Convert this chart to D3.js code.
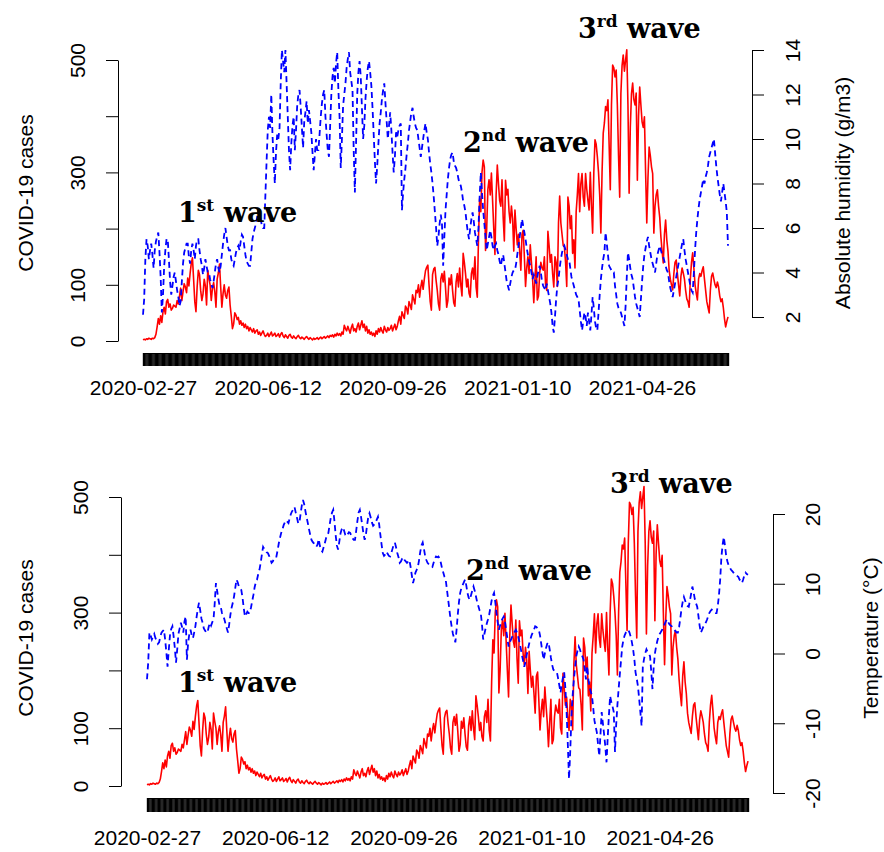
<!DOCTYPE html>
<html>
<head>
<meta charset="utf-8">
<script src="https://cdn.jsdelivr.net/npm/d3@7"></script>
<style>
  body { margin: 0; background: #fff; }
  svg { display: block; }
  .ax text { font-family: "Liberation Sans", Arial, sans-serif; font-size: 21px; fill: #000; }
  .ax line, .ax path { stroke: #000; }
  .title { font-family: "Liberation Sans", Arial, sans-serif; font-size: 21px; }
  .wave { font-family: "DejaVu Serif", serif; font-weight: bold; font-size: 27px; }
</style>
</head>
<body>
<svg id="chart" width="884" height="852"></svg>
<script>
// ---- data (daily, starting 2020-02-27) ----
const startDate = "2020-02-27";
const dateLabels = ["2020-02-27", "2020-06-12", "2020-09-26", "2021-01-10", "2021-04-26"];

const cases = [
  2, 3, 2, 4, 3, 5, 4,   3, 5, 4, 6, 12, 25, 40,   30, 45, 33, 52, 60, 48, 70,
  74, 60, 66, 55, 58, 64, 62,   60, 72, 66, 80, 94, 72, 88,   102, 96, 86, 112, 98, 120, 138,
  148, 110, 70, 52, 96, 126, 118,   90, 72, 84, 110, 98, 64, 126,   112, 100, 72, 94, 104, 88, 60,
  110, 121, 137, 96, 60, 84, 100,   82, 76, 90, 96, 64, 44, 22,   30, 50, 46, 38, 42, 30, 36,
  28, 32, 24, 30, 22, 26, 18,   24, 20, 16, 22, 14, 18, 20,   12, 16, 10, 14, 18, 12, 8,
  10, 14, 8, 12, 16, 9, 11,   14, 8, 10, 13, 7, 12, 15,   9, 6, 11, 8, 5, 10, 12,
  7, 5, 9, 6, 4, 8, 10,   6, 4, 7, 5, 3, 6, 8,   5, 3, 6, 4, 2, 5, 3,
  4, 6, 3, 5, 7, 4, 6,   8, 5, 7, 9, 6, 10, 8,   11, 7, 12, 9, 14, 10, 13,
  9, 16, 12, 28, 22, 18, 26,   20, 14, 24, 30, 18, 22, 16,   26, 32, 20, 28, 36, 24, 30,
  18, 26, 14, 20, 12, 16, 10,   14, 8, 18, 12, 22, 16, 24,   18, 14, 26, 20, 16, 24, 19,
  22, 28, 18, 24, 30, 20, 26,   36, 44, 30, 52, 46, 40, 62,   58, 48, 70, 64, 56, 82, 74,
  66, 90, 86, 100, 78, 96, 108,
  92, 110, 125, 131, 135, 100, 70,   55, 118, 128, 131, 108, 90, 66,   55, 110, 120, 105, 124, 95, 60,
  72, 112, 100, 118, 90, 68, 62,   105, 120, 96, 130, 100, 80, 156,   140, 120, 96, 110, 85, 78, 120,
  130, 110, 150, 96, 78, 180, 253,   230, 300, 322, 310, 161, 200, 270,   287, 260, 299, 250, 200, 154, 260,
  313, 280, 250, 240, 287, 220, 178,   286, 260, 270, 230, 210, 240, 218,   160, 233, 200, 171, 190, 160, 126,
  190, 197, 150, 97, 130, 150, 120,   171, 140, 110, 68, 110, 150, 73,   80, 120, 140, 130, 126, 150, 100,
  90, 195, 170, 140, 154, 120, 96,   150, 140, 97, 210, 258, 210, 190,   170, 167, 140, 97, 256, 240, 200,
  223, 156, 180, 130, 230, 260, 298,
  230, 280, 298, 256, 240, 298, 270,   250, 233, 300, 240, 192, 300, 358,   350, 328, 300, 260, 192, 300, 370,
  388, 417, 410, 429, 350, 269, 420,   491, 486, 470, 482, 420, 330, 256,   440, 490, 509, 480, 500, 518, 420,
  263, 380, 440, 459, 430, 420, 441,   286, 400, 452, 420, 390, 380, 399,   300, 210, 290, 345, 330, 310, 298,
  192, 240, 260, 269, 240, 220, 185,   160, 139, 190, 215, 180, 160, 126,   110, 100, 91, 120, 140, 144, 120,
  100, 80, 115, 130, 121, 110, 90,   75, 70, 60, 110, 140, 157, 130,   100, 85, 73, 110, 120, 115, 125,
  132, 110, 90, 70, 60, 50, 90,   115, 121, 110, 100, 95, 105, 96,   80, 70, 75, 60, 40, 25, 35,
  43
];

// absolute humidity, g/m3
const humidity = [
  2.1, 2.8, 4.6, 5.5, 5.2, 4.6, 5.0,   5.3, 4.8, 4.2, 5.0, 5.4, 5.6, 5.8,   4.9, 3.8, 2.2, 3.0, 4.3, 5.0, 5.5,
  5.5, 4.6, 3.6, 3.0, 3.4, 3.8, 4.0,   3.6, 3.2, 2.9, 2.5, 2.7, 3.6, 4.4,   4.9, 5.1, 5.3, 5.3, 4.7, 4.4, 5.0,
  5.3, 5.0, 4.6, 5.2, 5.5, 5.5, 5.0,   4.6, 4.3, 3.9, 4.2, 4.6, 4.3, 4.0,   4.0, 3.7, 3.5, 3.3, 3.6, 4.0, 4.4,
  4.6, 4.2, 4.0, 4.3, 4.8, 5.3, 5.7,   6.0, 5.6, 5.2, 5.0, 5.0, 4.6, 4.4,   4.3, 4.6, 4.9, 5.1, 5.2, 5.0, 5.4,
  5.7, 5.6, 5.2, 4.8, 4.5, 4.4, 4.3,   4.3, 4.9, 5.5, 5.8, 6.0, 6.2, 6.5,   6.8, 6.7, 6.4, 6.1, 6.0, 6.0, 7.5,
  9.0, 10.4, 11.0, 10.5, 12.0, 10.2, 9.0,   8.0, 9.4, 10.2, 10.0, 10.5, 12.5, 14.0,   13.5, 13.0, 14.0, 12.5, 11.0, 9.5, 8.6,
  9.8, 10.6, 11.0, 9.5, 10.4, 11.5, 12.0,   12.2, 11.4, 10.5, 9.6, 10.8, 11.2, 11.7,   10.7, 11.3, 10.8, 10.3, 9.4, 8.6, 9.3,
  10.0, 9.5, 9.5, 10.2, 11.0, 11.6, 12.0,   12.2, 11.0, 10.2, 9.5, 9.2, 10.6, 12.0,   12.8, 13.2, 12.5, 13.4, 13.9, 12.2, 11.0,
  8.7, 10.0, 11.5, 12.0, 12.5, 13.2, 13.6,   13.9, 13.0, 12.6, 12.2, 9.5, 7.6, 9.8,   12.0, 13.0, 13.5, 12.8, 11.4, 10.0, 10.6,
  11.8, 12.6, 13.2, 13.5, 13.0, 12.4, 11.4,   10.2, 9.0, 8.0, 8.8, 9.8, 10.7, 11.2,   11.8, 12.2, 12.5, 11.6, 10.8, 10.0, 10.6,
  11.2, 10.4, 9.4, 8.5, 9.2, 10.3, 10.1,   10.4, 10.6, 10.7, 6.8, 7.6, 8.2, 8.7,   9.3, 9.8, 10.4, 10.8, 11.2, 11.4, 11.0,
  10.7, 10.5, 10.4, 10.0, 9.6, 9.2, 9.6,   10.0, 10.4, 10.7, 10.3, 10.0, 9.4, 8.9,   8.5, 8.0, 7.4, 6.7, 6.0, 5.2, 5.6,
  6.2, 6.6, 6.2, 4.3, 5.6, 6.8, 7.5,   8.2, 8.7, 9.1, 9.3, 9.4, 9.0, 8.8,   8.7, 8.5, 8.2, 8.0, 7.9, 7.6, 7.2,
  7.0, 6.7, 6.2, 5.8, 5.5, 6.0, 6.4,   6.7, 6.3, 5.8, 5.5, 5.2, 6.0, 7.4,   8.5, 7.6, 6.8, 6.2, 5.6, 5.0, 5.3,
  5.6, 5.9, 5.6, 5.2, 5.0, 5.2, 5.3,   5.0, 4.8, 4.5, 4.3, 4.6, 4.8, 4.4,   4.0, 3.6, 3.4, 3.2, 3.5, 3.8, 4.0,
  4.1, 4.1, 4.4, 4.8, 5.2, 5.6, 6.0,   6.4, 6.1, 5.8, 5.5, 5.1, 4.8, 4.5,   4.3, 4.0, 3.7, 3.9, 3.7, 3.5, 3.8,
  4.1, 4.3, 4.0, 3.6, 3.4, 3.3, 3.2,   3.5, 3.2, 2.9, 2.6, 2.2, 1.6, 1.3,   2.0, 2.8, 3.4, 3.7, 4.2, 4.6, 4.9,
  5.1, 5.2, 5.0, 4.8, 4.6, 4.6, 4.2,   3.8, 3.6, 3.4, 3.2, 3.0, 2.9, 2.8,   2.3, 1.8, 1.4, 1.8, 2.2, 2.0, 1.6,
  2.2, 1.8, 1.4, 2.1, 2.9, 2.4, 1.8,   1.5, 1.4, 2.2, 3.0, 3.7, 4.2, 4.6,   4.9, 5.8, 5.3, 4.8, 4.3, 4.2, 4.1,
  4.0, 4.0, 3.4, 3.0, 2.6, 2.4, 2.3,   2.2, 2.0, 1.8, 1.6, 2.5, 3.8, 4.9,   4.6, 4.2, 3.9, 3.7, 3.3, 2.9, 2.6,
  2.4, 2.2, 2.0, 2.8, 3.6, 4.3, 4.8,   5.1, 5.4, 5.6, 5.2, 4.9, 4.6, 4.4,   4.2, 4.0, 4.4, 4.8, 5.0, 5.2, 5.0,
  4.8, 4.7, 4.5, 4.3, 4.1, 4.0, 3.6,   3.3, 3.1, 2.9, 3.2, 3.5, 3.8, 4.1,   4.4, 4.7, 5.0, 5.3, 5.5, 5.0, 4.6,
  4.3, 4.0, 3.7, 3.4, 3.2, 3.1, 4.0,   5.0, 5.8, 6.4, 6.9, 7.3, 7.6, 7.9,   8.2, 8.0, 8.3, 8.5, 8.8, 9.2, 9.4,
  9.6, 9.8, 10.0, 9.4, 8.8, 8.3, 7.9,   7.5, 7.2, 7.6, 8.0, 7.6, 7.2, 6.7,
  5.2
];

// temperature, deg C
const temperature = [
  -3.7, -1.3, 3.0, 2.6, 2.0, 2.4, 2.8,   2.2, 1.8, 1.4, 1.6, 2.4, 3.0, 3.2,   3.4, 2.0, 0.2, -1.9, 0.5, 2.6, 3.5,
  3.9, 2.5, 0.8, -1.3, 0.6, 2.8, 3.6,   4.4, 3.8, 3.0, 4.6, 5.3, -0.9, 1.5,   2.8, 3.4, 2.6, 2.2, 3.0, 3.9, 5.2,
  6.4, 7.3, 6.2, 5.0, 4.4, 3.6, 3.3,   3.0, 3.0, 3.8, 4.4, 4.0, 4.5, 4.9,   7.2, 10.1, 9.0, 7.8, 6.9, 6.7, 5.8,
  5.4, 4.9, 4.2, 3.6, 3.0, 4.2, 5.6,   6.6, 7.3, 8.2, 9.4, 10.6, 10.2, 9.6,   9.3, 9.1, 8.0, 6.5, 5.3, 5.6, 6.0,
  5.8, 5.8, 6.6, 7.5, 8.4, 9.5, 10.2,   10.6, 11.4, 12.0, 13.0, 14.2, 15.3, 15.0,   14.8, 14.5, 14.4, 14.0, 13.5, 13.0, 13.2,
  13.6, 13.9, 13.9, 14.8, 15.8, 16.6, 17.3,   17.8, 18.4, 18.8, 19.1, 18.9, 18.7, 19.4,   20.0, 20.4, 20.6, 21.0, 20.2, 19.5, 18.7,
  18.7, 20.0, 21.2, 22.0, 21.4, 20.4, 19.5,   18.7, 17.8, 17.0, 16.3, 16.0, 15.8, 15.5,   15.3, 15.6, 16.4, 15.4, 14.8, 14.6, 15.2,
  15.8, 16.5, 17.0, 17.3, 18.4, 19.5, 20.2,   20.6, 19.0, 17.0, 15.5, 14.9, 16.0, 17.2,   17.8, 18.1, 17.6, 17.0, 16.8, 17.1, 17.4,
  17.3, 16.9, 16.5, 16.3, 16.3, 17.6, 19.0,   20.2, 20.6, 19.6, 18.4, 17.2, 16.3, 17.0,   18.4, 19.6, 20.1, 19.5, 18.8, 18.3, 18.5,
  18.7, 19.2, 19.6, 18.5, 17.0, 15.6, 14.4,   14.0, 14.2, 14.6, 14.3, 14.0, 13.9, 14.4,   15.0, 15.6, 15.9, 15.2, 14.4, 13.8, 13.0,
  13.2, 13.6, 13.8, 13.4, 13.2, 13.0, 13.2,   13.4, 12.4, 11.2, 10.1, 10.8, 11.6, 12.0,   12.4, 13.4, 14.6, 15.5, 15.9, 15.0, 14.0,
  13.4, 13.0, 12.8, 12.6, 12.5, 12.4, 13.0,   13.6, 13.9, 13.8, 13.9, 13.6, 13.0, 12.2,   11.6, 11.0, 10.6, 9.2, 7.8, 6.4, 4.9,
  3.8, 2.8, 2.2, 1.6, 3.4, 5.6, 7.4,   8.7, 9.4, 9.8, 10.2, 10.6, 9.8, 8.7,   8.0, 7.7, 8.4, 9.0, 9.6, 9.0, 8.2,
  7.4, 6.8, 6.2, 5.8, 4.2, 2.0, 2.8,   3.6, 4.3, 4.9, 5.6, 6.6, 7.6, 8.3,   8.7, 7.4, 5.8, 4.5, 3.4, 4.0, 4.6,
  5.0, 5.3, 4.6, 3.4, 2.2, 1.0, 1.6,   2.0, 2.4, 2.8, 3.1, 3.4, 3.0, 2.4,   1.6, 0.8, -0.2, -1.0, -1.9, -1.2, -0.2,
  0.6, 1.4, 2.0, 2.6, 3.0, 3.4, 3.9,   3.8, 3.6, 3.4, 2.6, 1.4, 0.2, -0.9,   0.0, 0.8, 1.4, 1.6, 0.6, -0.6, -1.6,
  -2.3, -2.5, -2.6, -2.7, -3.6, -4.6, -5.6,   -4.4, -3.4, -2.7, -5.0, -8.4, -13.0, -18.0,   -14.0, -9.0, -6.0, -3.7, -2.0, -0.4, 0.4,
  1.0, 0.6, 0.0, -0.4, -0.9, -2.2, -3.7,   -1.8, -3.7, -4.8, -5.5, -6.1, -7.8, -9.6,   -10.5, -11.3, -13.0, -14.7, -11.6, -8.4, -10.0,
  -11.6, -13.3, -15.6, -12.0, -8.8, -6.1, -7.0,   -7.6, -8.4, -14.1, -10.2, -7.4, -5.1, -3.0,   -1.0, 1.0, 2.0, 2.6, 3.0, 3.2, 3.4,
  3.0, 2.4, 1.6, 0.6, -0.8, -2.7, -3.6,   -4.7, -6.5, -8.4, -10.4, -1.9, -0.8, 0.0,   0.6, 0.2, 0.0, -0.4, -2.6, -5.1, -2.0,
  0.0, 1.0, 1.8, 2.4, 2.8, 3.1, 3.4,   3.8, 4.2, 4.6, 4.9, 4.5, 4.2, 4.0,   3.9, 3.6, 3.4, 3.2, 3.0, 3.0, 3.8,
  5.0, 6.4, 7.4, 8.1, 7.6, 7.0, 6.8,   6.7, 7.6, 8.6, 9.6, 8.8, 7.8, 7.2,   6.7, 5.4, 4.0, 3.0, 3.4, 3.8, 4.1,
  4.4, 4.8, 5.3, 5.8, 6.1, 6.3, 6.1,   5.9, 5.8, 5.8, 6.8, 8.4, 10.6, 13.8,   15.6, 16.7, 15.4, 13.9, 13.2, 12.6, 12.3,
  12.0, 11.8, 11.6, 11.4, 11.2, 11.1, 11.0,   10.6, 10.3, 10.1, 10.6, 11.2, 11.6, 11.4,
  11.3
];

const caseTicks = [0, 100, 200, 300, 400, 500];
const caseLabels = [0, 100, 300, 500];
const humTicks = [2, 4, 6, 8, 10, 12, 14];
const tempTicks = [-20, -10, 0, 10, 20];

// ---- setup ----
const svg = d3.select("#chart");
const parse = d3.timeParse("%Y-%m-%d");
const fmt = d3.timeFormat("%Y-%m-%d");
const day0 = parse(startDate);
const days = cases.map((_, i) => d3.timeDay.offset(day0, i));

// rotated (bottom-to-top) tick labels, baseline at offset k from the axis line
function rotateLabels(sel, k) {
    sel.selectAll(".tick text")
        .attr("x", null).attr("y", null).attr("dy", null)
        .attr("text-anchor", "middle")
        .attr("transform", `translate(${k},0) rotate(-90)`);
}

function drawPanel(p) {
    const g = svg.append("g");

    const x = d3.scaleTime()
        .domain([days[0], days[days.length - 1]])
        .range([p.x0, p.x1]);
    const y = d3.scaleLinear().domain([0, 500]).range(p.yCases);
    const y2 = d3.scaleLinear().domain(p.y2Domain).range(p.y2Range);

    // x axis: one tick per day -> black bar
    const xa = g.append("g")
        .attr("class", "ax")
        .attr("transform", `translate(0,${p.xAxisY})`)
        .call(d3.axisBottom(x)
            .tickValues(days)
            .tickSize(p.tickLen)
            .tickSizeOuter(0)
            .tickPadding(p.labelPad)
            .tickFormat(d => dateLabels.includes(fmt(d)) ? fmt(d) : ""));
    xa.selectAll(".tick line").attr("stroke-width", 1.4);

    // left axis (cases)
    g.append("g")
        .attr("class", "ax")
        .attr("transform", `translate(${p.leftX},0)`)
        .call(d3.axisLeft(y)
            .tickValues(caseTicks)
            .tickSize(12)
            .tickSizeOuter(0)
            .tickFormat(d => caseLabels.includes(d) ? String(d) : ""))
        .call(rotateLabels, -33);

    // right axis
    g.append("g")
        .attr("class", "ax")
        .attr("transform", `translate(${p.rightX},0)`)
        .call(d3.axisRight(y2)
            .tickValues(p.y2Ticks)
            .tickSize(12)
            .tickSizeOuter(0)
            .tickFormat(d => String(d)))
        .call(rotateLabels, p.rightLabelK);

    // axis titles
    g.append("text").attr("class", "title")
        .attr("transform", `translate(33,${p.titleY}) rotate(-90)`)
        .attr("text-anchor", "middle")
        .text("COVID-19 cases");
    g.append("text").attr("class", "title")
        .attr("transform", `translate(${p.rightTitleX},${p.titleY}) rotate(-90)`)
        .attr("text-anchor", "middle")
        .text(p.rightTitle);

    // lines
    g.append("path")
        .datum(cases)
        .attr("fill", "none")
        .attr("stroke", "#ff0000")
        .attr("stroke-width", 1.6)
        .attr("stroke-linejoin", "round")
        .attr("d", d3.line().x((d, i) => x(days[i])).y(d => y(d)));

    g.append("path")
        .datum(p.series)
        .attr("fill", "none")
        .attr("stroke", "#0000ff")
        .attr("stroke-width", 1.8)
        .attr("stroke-dasharray", "6,4")
        .attr("d", d3.line().x((d, i) => x(days[i])).y(d => y2(d)));

    // wave annotations
    p.waves.forEach(w => {
        const t = g.append("text").attr("class", "wave")
            .attr("x", w.x).attr("y", w.y);
        t.append("tspan").text(w.n);
        t.append("tspan").attr("font-size", 17).attr("dy", -11).text(w.sup);
        t.append("tspan").attr("dy", 11).text(" wave");
    });
}

drawPanel({
    x0: 143, x1: 728,
    yCases: [341, 60],
    y2Domain: [2, 14], y2Range: [317, 50], y2Ticks: humTicks,
    series: humidity,
    xAxisY: 353, tickLen: 13, labelPad: 14,
    leftX: 118, rightX: 752, rightLabelK: 48,
    titleY: 193, rightTitleX: 850,
    rightTitle: "Absolute humidity (g/m3)",
    waves: [
        { n: "1", sup: "st", x: 178, y: 222 },
        { n: "2", sup: "nd", x: 463, y: 152 },
        { n: "3", sup: "rd", x: 578, y: 38 }
    ]
});

drawPanel({
    x0: 147, x1: 748,
    yCases: [786, 497],
    y2Domain: [-20, 20], y2Range: [793, 514], y2Ticks: tempTicks,
    series: temperature,
    xAxisY: 798, tickLen: 14, labelPad: 18,
    leftX: 121, rightX: 773, rightLabelK: 47,
    titleY: 638, rightTitleX: 878,
    rightTitle: "Temperature (°C)",
    waves: [
        { n: "1", sup: "st", x: 178, y: 692 },
        { n: "2", sup: "nd", x: 466, y: 580 },
        { n: "3", sup: "rd", x: 610, y: 493 }
    ]
});
</script>
</body>
</html>
